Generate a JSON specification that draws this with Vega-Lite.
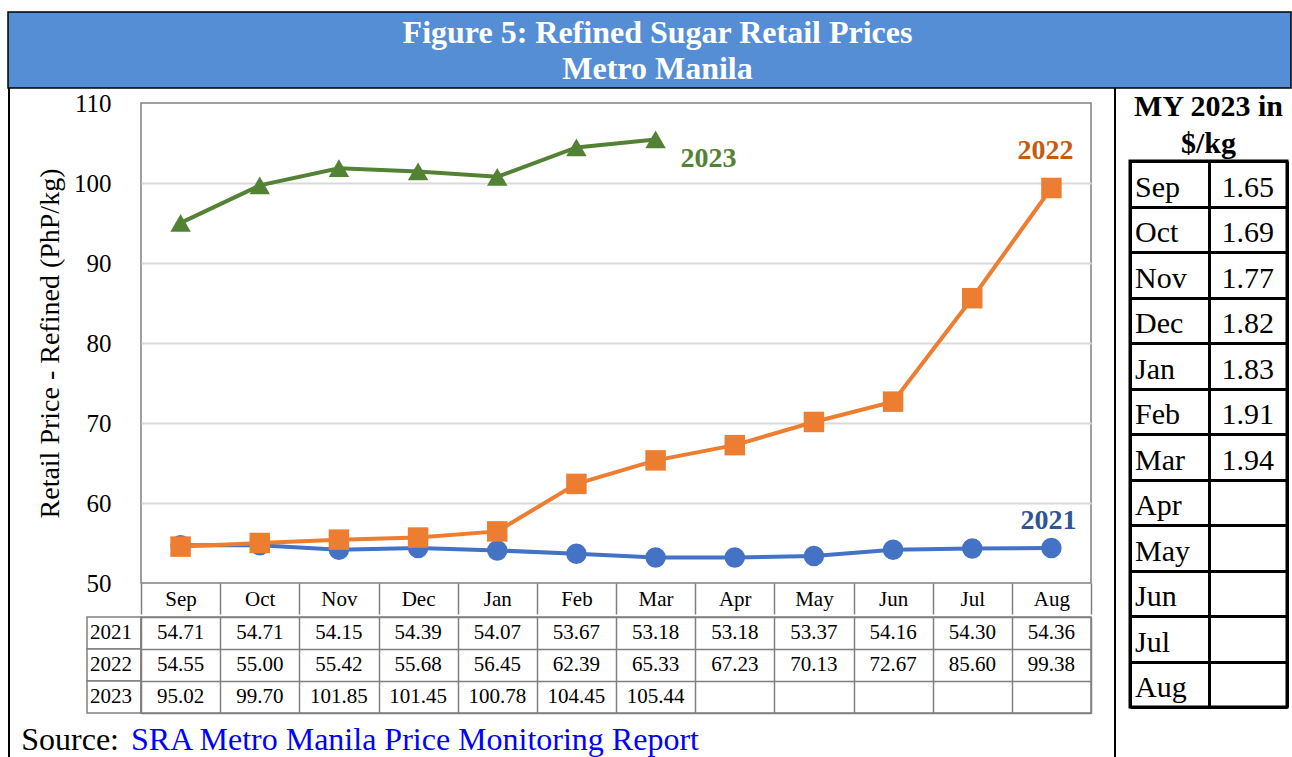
{
  "$schema": "https://vega.github.io/schema/vega-lite/v6.json",
  "padding": {"left": 7, "top": 11, "right": 0, "bottom": 0},
  "background": "white",
  "config": {
    "font": "Liberation Serif",
    "view": {"stroke": null},
    "concat": {"spacing": 0}
  },
  "datasets": {
    "prices": [
      {"year": "2021", "month": "Sep", "price": 54.71},
      {"year": "2021", "month": "Oct", "price": 54.71},
      {"year": "2021", "month": "Nov", "price": 54.15},
      {"year": "2021", "month": "Dec", "price": 54.39},
      {"year": "2021", "month": "Jan", "price": 54.07},
      {"year": "2021", "month": "Feb", "price": 53.67},
      {"year": "2021", "month": "Mar", "price": 53.18},
      {"year": "2021", "month": "Apr", "price": 53.18},
      {"year": "2021", "month": "May", "price": 53.37},
      {"year": "2021", "month": "Jun", "price": 54.16},
      {"year": "2021", "month": "Jul", "price": 54.30},
      {"year": "2021", "month": "Aug", "price": 54.36},
      {"year": "2022", "month": "Sep", "price": 54.55},
      {"year": "2022", "month": "Oct", "price": 55.00},
      {"year": "2022", "month": "Nov", "price": 55.42},
      {"year": "2022", "month": "Dec", "price": 55.68},
      {"year": "2022", "month": "Jan", "price": 56.45},
      {"year": "2022", "month": "Feb", "price": 62.39},
      {"year": "2022", "month": "Mar", "price": 65.33},
      {"year": "2022", "month": "Apr", "price": 67.23},
      {"year": "2022", "month": "May", "price": 70.13},
      {"year": "2022", "month": "Jun", "price": 72.67},
      {"year": "2022", "month": "Jul", "price": 85.60},
      {"year": "2022", "month": "Aug", "price": 99.38},
      {"year": "2023", "month": "Sep", "price": 95.02},
      {"year": "2023", "month": "Oct", "price": 99.70},
      {"year": "2023", "month": "Nov", "price": 101.85},
      {"year": "2023", "month": "Dec", "price": 101.45},
      {"year": "2023", "month": "Jan", "price": 100.78},
      {"year": "2023", "month": "Feb", "price": 104.45},
      {"year": "2023", "month": "Mar", "price": 105.44}
    ],
    "usd": [
      {"month": "Sep", "usd": 1.65},
      {"month": "Oct", "usd": 1.69},
      {"month": "Nov", "usd": 1.77},
      {"month": "Dec", "usd": 1.82},
      {"month": "Jan", "usd": 1.83},
      {"month": "Feb", "usd": 1.91},
      {"month": "Mar", "usd": 1.94},
      {"month": "Apr", "usd": null},
      {"month": "May", "usd": null},
      {"month": "Jun", "usd": null},
      {"month": "Jul", "usd": null},
      {"month": "Aug", "usd": null}
    ]
  },
  "bounds": "flush",
  "spacing": 0,
  "vconcat": [
    {
      "width": 1283,
      "height": 76,
      "view": {"fill": "#558ED5", "stroke": "black", "strokeWidth": 1.5},
      "data": {"values": [{"t": 1}]},
      "mark": {"type": "text", "text": ["Figure 5: Refined Sugar Retail Prices", "Metro Manila"], "fontSize": 32, "fontWeight": "bold", "color": "white", "lineHeight": 36, "align": "center", "baseline": "middle", "dx": 8, "dy": -17}
    },
    {
      "bounds": "full",
      "spacing": 0,
      "hconcat": [
        {"width": 2, "height": 669, "view": {"fill": "black"}, "data": {"values": []}, "mark": "point"},
        {
          "bounds": "full",
          "spacing": 0,
          "vconcat": [
            {"width": 1, "height": 2, "data": {"values": []}, "mark": "point"},
            {
              "bounds": "flush",
              "spacing": 0,
              "hconcat": [
                {"width": 131, "height": 511, "data": {"values": []}, "mark": "point"},
                {
                  "width": 950,
                  "height": 480,
                  "view": {"stroke": "#808080", "strokeWidth": 1.5},
                  "data": {"name": "prices"},
                  "encoding": {
                    "x": {
                      "field": "month", "type": "ordinal",
                      "scale": {"type": "band", "domain": ["Sep", "Oct", "Nov", "Dec", "Jan", "Feb", "Mar", "Apr", "May", "Jun", "Jul", "Aug"], "paddingInner": 0, "paddingOuter": 0},
                      "axis": {"title": null, "domain": false, "grid": false, "ticks": true, "tickBand": "extent", "tickSize": 31, "tickColor": "#808080", "tickWidth": 1.5, "labelFontSize": 21, "labelColor": "black", "labelBaseline": "middle", "labelPadding": -15, "labelAngle": 0}
                    },
                    "y": {
                      "field": "price", "type": "quantitative",
                      "scale": {"domain": [50, 110], "nice": false, "zero": false},
                      "axis": {
                        "title": "Retail Price - Refined (PhP/kg)",
                        "titleFontSize": 28, "titleFontWeight": "normal", "titleColor": "black", "titlePadding": 9,
                        "labelFontSize": 25, "labelColor": "black", "labelPadding": 30,
                        "ticks": false, "domain": false, "grid": true,
                        "gridColor": "#D9D9D9", "gridWidth": 2,
                        "gridOpacity": {"condition": {"test": "datum.value == 50 || datum.value == 110", "value": 0}, "value": 1},
                        "values": [50, 60, 70, 80, 90, 100, 110]
                      }
                    },
                    "color": {"field": "year", "type": "nominal", "scale": {"domain": ["2021", "2022", "2023"], "range": ["#4472C4", "#ED7D31", "#548235"]}, "legend": null}
                  },
                  "layer": [
                    {"mark": {"type": "line", "strokeWidth": 4}},
                    {
                      "mark": {"type": "point", "filled": true, "opacity": 1},
                      "encoding": {
                        "shape": {"field": "year", "type": "nominal", "scale": {"domain": ["2021", "2022", "2023"], "range": ["circle", "square", "triangle-up"]}, "legend": null},
                        "size": {"field": "year", "type": "nominal", "scale": {"domain": ["2021", "2022", "2023"], "range": [420, 420, 450]}, "legend": null}
                      }
                    },
                    {
                      "transform": [{"filter": "datum.year == '2023' && datum.month == 'Mar'"}],
                      "mark": {"type": "text", "text": "2023", "fontSize": 28, "fontWeight": "bold", "dx": 53, "dy": 20, "baseline": "middle"},
                      "encoding": {"color": {"value": "#548235"}}
                    },
                    {
                      "transform": [{"filter": "datum.year == '2022' && datum.month == 'Aug'"}],
                      "mark": {"type": "text", "text": "2022", "fontSize": 28, "fontWeight": "bold", "dx": -6, "dy": -37, "baseline": "middle"},
                      "encoding": {"color": {"value": "#C55A11"}}
                    },
                    {
                      "transform": [{"filter": "datum.year == '2021' && datum.month == 'Aug'"}],
                      "mark": {"type": "text", "text": "2021", "fontSize": 28, "fontWeight": "bold", "dx": -3, "dy": -27, "baseline": "middle"},
                      "encoding": {"color": {"value": "#2F5597"}}
                    }
                  ]
                },
                {"width": 23, "height": 511, "data": {"values": []}, "mark": "point"}
              ]
            },
            {
              "bounds": "flush",
              "spacing": 0,
              "hconcat": [
                {"width": 77, "height": 96, "data": {"values": []}, "mark": "point"},
                {
                  "width": 54,
                  "height": 96,
                  "data": {"name": "prices"},
                  "transform": [{"filter": "datum.month == 'Sep'"}],
                  "encoding": {
                    "y": {"field": "year", "type": "ordinal", "scale": {"type": "band", "domain": ["2021", "2022", "2023"], "padding": 0}, "axis": null}
                  },
                  "layer": [
                    {"mark": {"type": "rect", "fill": "white", "stroke": "#808080", "strokeWidth": 1.5}},
                    {"mark": {"type": "text", "fontSize": 21, "color": "black", "baseline": "middle", "dx": -3}, "encoding": {"text": {"field": "year"}}}
                  ]
                },
                {
                  "width": 950,
                  "height": 96,
                  "view": {"stroke": "#808080", "strokeWidth": 1.5},
                  "data": {"name": "prices"},
                  "encoding": {
                    "x": {
                      "field": "month", "type": "ordinal",
                      "scale": {"type": "band", "domain": ["Sep", "Oct", "Nov", "Dec", "Jan", "Feb", "Mar", "Apr", "May", "Jun", "Jul", "Aug"], "paddingInner": 0, "paddingOuter": 0},
                      "axis": {"labels": false, "ticks": false, "domain": false, "grid": true, "tickBand": "extent", "gridColor": "#808080", "gridWidth": 1.5, "title": null}
                    },
                    "y": {
                      "field": "year", "type": "ordinal",
                      "scale": {"type": "band", "domain": ["2021", "2022", "2023"], "padding": 0},
                      "axis": {"labels": false, "ticks": false, "domain": false, "grid": true, "tickBand": "extent", "gridColor": "#808080", "gridWidth": 1.5, "title": null}
                    },
                    "text": {"field": "price", "type": "quantitative", "format": ".2f"}
                  },
                  "mark": {"type": "text", "fontSize": 21, "color": "black", "baseline": "middle"}
                }
              ]
            },
            {
              "width": 226,
              "height": 44,
              "data": {"values": [{"t": 1}]},
              "layer": [
                {"mark": {"type": "text", "text": "Source:", "align": "right", "fontSize": 32, "color": "black", "baseline": "alphabetic", "dx": -4, "dy": 14}},
                {"mark": {"type": "text", "text": "SRA Metro Manila Price Monitoring Report", "align": "left", "fontSize": 32, "color": "#0000FF", "baseline": "alphabetic", "dx": 8, "dy": 14}}
              ]
            }
          ]
        },
        {"width": 2, "height": 669, "view": {"fill": "black"}, "data": {"values": []}, "mark": "point"},
        {
          "bounds": "flush",
          "spacing": 0,
          "hconcat": [
            {"width": 14, "height": 1, "data": {"values": []}, "mark": "point"},
            {
              "bounds": "flush",
              "spacing": 0,
              "vconcat": [
                {"width": 1, "height": 73, "data": {"values": []}, "mark": "point"},
                {
                  "width": 157,
                  "height": 546,
                  "view": {"stroke": "black", "strokeWidth": 3},
                  "title": {"text": ["MY 2023 in", "$/kg"], "fontSize": 30, "fontWeight": "bold", "color": "black", "lineHeight": 37, "anchor": "middle", "offset": 2, "font": "Liberation Serif"},
                  "data": {"name": "usd"},
                  "encoding": {
                    "y": {
                      "field": "month", "type": "ordinal",
                      "scale": {"type": "band", "domain": ["Sep", "Oct", "Nov", "Dec", "Jan", "Feb", "Mar", "Apr", "May", "Jun", "Jul", "Aug"], "padding": 0},
                      "axis": {"labels": false, "ticks": false, "domain": false, "grid": true, "tickBand": "extent", "gridColor": "black", "gridWidth": 3, "title": null}
                    }
                  },
                  "layer": [
                    {
                      "mark": {"type": "text", "fontSize": 30, "color": "black", "align": "left", "baseline": "middle", "dx": 5, "dy": 4},
                      "encoding": {
                        "x": {"datum": "m", "type": "nominal", "bandPosition": 0, "scale": {"type": "band", "domain": ["m", "v"], "paddingInner": 0, "paddingOuter": 0}, "axis": {"labels": false, "ticks": false, "domain": false, "grid": true, "tickBand": "extent", "gridColor": "black", "gridWidth": 3, "title": null}},
                        "text": {"field": "month"}
                      }
                    },
                    {
                      "transform": [{"filter": "datum.usd != null"}],
                      "mark": {"type": "text", "fontSize": 30, "color": "black", "baseline": "middle", "dy": 4},
                      "encoding": {
                        "x": {"datum": "v", "type": "nominal"},
                        "text": {"field": "usd", "type": "quantitative", "format": ".2f"}
                      }
                    }
                  ]
                }
              ]
            }
          ]
        }
      ]
    }
  ]
}
